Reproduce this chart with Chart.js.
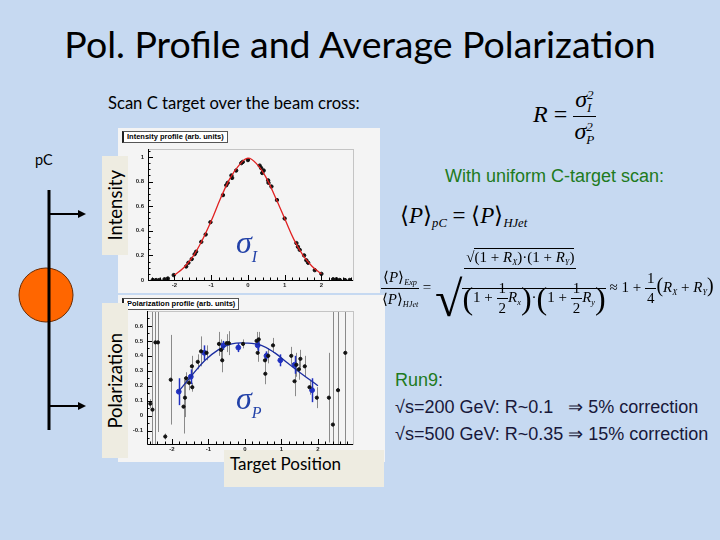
<!DOCTYPE html>
<html>
<head>
<meta charset="utf-8">
<script src="https://cdn.jsdelivr.net/npm/chart.js@4.4.1/dist/chart.umd.min.js"></script>
<style>
  html, body { margin: 0; padding: 0; }
  #slide { position: relative; width: 720px; height: 540px; background: #c6d9f1; overflow: hidden; font-family: Lato, "Open Sans", sans-serif; color: #000; }
  .abs { position: absolute; }
  #title { left: 0; width: 720px; top: 21px; text-align: center; font-size: 37.5px; }
  #scan { left: 108px; top: 93px; font-size: 16.6px; }
  #pc { left: 35px; top: 151px; font-size: 14.5px; }
  .panel { background: #f4f4f4; }
  .ptitle { background: #fff; border: 1px solid #555; border-left: 2px solid #222; font: bold 7.5px "Liberation Sans", Arial, sans-serif; line-height: 10px; padding: 0 3px; white-space: nowrap; }
  .vlab { background: #eeece1; display: flex; align-items: center; justify-content: center; }
  .vlab span { writing-mode: vertical-rl; transform: rotate(180deg); font-size: 18.5px; }
  #tpos { left: 224px; top: 450px; width: 160px; height: 37px; background: #eeece1; font-size: 17px; line-height: 28px; padding-left: 6px; box-sizing: border-box; }
  .sig { font-family: "Liberation Serif", serif; font-style: italic; color: #2342a8; font-size: 32px; }
  .sig sub { font-size: 16px; vertical-align: -9px; }
  .math { font-family: "Liberation Serif", "Times New Roman", serif; white-space: nowrap; }
  .frac { display: inline-flex; flex-direction: column; align-items: center; vertical-align: middle; }
  .frac > span:first-child { border-bottom: 1px solid #000; padding: 0 2px 1px; }
  .frac > span:last-child { padding-top: 1px; }
  .sc { display: inline-flex; flex-direction: column; font-size: 55%; line-height: 1; vertical-align: middle; font-style: italic; }
  .sb { font-size: 55%; font-style: italic; vertical-align: -0.35em; }
  .ov { border-top: 1px solid #000; }
  .bp { font-size: 32px; vertical-align: middle; }
  #green1 { left: 445px; top: 166px; font: 18px "Liberation Sans", Arial, sans-serif; color: #207a20; }
  #run { left: 395px; top: 367px; font: 18px "Liberation Sans", Arial, sans-serif; color: #18183a; line-height: 27px; }
  #run .g { color: #207a20; }
</style>
</head>
<body>
<div id="slide">
  <div id="title" class="abs">Pol. Profile and Average Polarization</div>
  <div id="scan" class="abs">Scan C target over the beam cross:</div>
  <div id="pc" class="abs">pC</div>

  <svg class="abs" style="left:0;top:0" width="110" height="540">
    <circle cx="46" cy="295" r="27" fill="#ff6600" stroke="#6a2a00" stroke-width="1"/>
    <line x1="49" y1="190" x2="49" y2="430" stroke="#000" stroke-width="3"/>
    <line x1="49" y1="214" x2="80" y2="214" stroke="#000" stroke-width="2"/>
    <polygon points="78,210 86,214 78,218" fill="#000"/>
    <line x1="49" y1="406" x2="80" y2="406" stroke="#000" stroke-width="2"/>
    <polygon points="78,402 86,406 78,410" fill="#000"/>
  </svg>

  <div class="abs panel" style="left:118px;top:128px;width:262px;height:165px"></div>
  <div class="abs panel" style="left:118px;top:295px;width:267px;height:167px"></div>
  <div id="tpos" class="abs">Target Position</div>
  <div class="abs" style="left:118px;top:128px;width:262px;height:164px"><canvas id="intChart"></canvas></div>
  <div class="abs" style="left:118px;top:294px;width:267px;height:168px"><canvas id="polChart"></canvas></div>
  <div class="abs ptitle" style="left:122px;top:131px">Intensity profile (arb. units)</div>
  <div class="abs ptitle" style="left:122px;top:298px">Polarization profile (arb. units)</div>

  <div class="abs vlab" style="left:102px;top:156px;width:26px;height:99px"><span>Intensity</span></div>
  <div class="abs vlab" style="left:102px;top:303px;width:26px;height:155px"><span>Polarization</span></div>

  <div class="abs sig" style="left:236px;top:224px">σ<sub>I</sub></div>
  <div class="abs sig" style="left:236px;top:380px">σ<sub>P</sub></div>

  <div class="abs math" style="left:533px;top:86px;font-size:24px">
    <i>R</i> = <span class="frac"><span><i>σ</i><span class="sc"><span>2</span><span>I</span></span></span><span><i>σ</i><span class="sc"><span>2</span><span>P</span></span></span></span>
  </div>

  <div id="green1" class="abs">With uniform C-target scan:</div>

  <div class="abs math" style="left:400px;top:202px;font-size:23px">
    ⟨<i>P</i>⟩<span class="sb">pC</span> = ⟨<i>P</i>⟩<span class="sb">HJet</span>
  </div>

  <div class="abs math" style="left:381px;top:249px;font-size:15px">
    <span class="frac"><span>⟨<i>P</i>⟩<span class="sb">Exp</span></span><span>⟨<i>P</i>⟩<span class="sb">HJet</span></span></span>
    =
    <span class="frac"><span>√<span class="ov">(1 + <i>R<span class="sb">X</span></i>)·(1 + <i>R<span class="sb">Y</span></i>)</span></span><span><span style="font-size:50px;vertical-align:middle">√</span><span class="ov"><span class="bp">(</span>1 + <span class="frac"><span>1</span><span>2</span></span><i>R<span class="sb">x</span></i><span class="bp">)</span>·<span class="bp">(</span>1 + <span class="frac"><span>1</span><span>2</span></span><i>R<span class="sb">y</span></i><span class="bp">)</span></span></span></span>
    ≈ 1 + <span class="frac"><span>1</span><span>4</span></span><span style="font-size:20px">(</span><i>R<span class="sb">X</span></i> + <i>R<span class="sb">Y</span></i><span style="font-size:20px">)</span>
  </div>

  <div id="run" class="abs"><span class="g">Run9</span>:<br>√s=200 GeV: R~0.1 &nbsp; ⇒ 5% correction<br>√s=500 GeV: R~0.35 ⇒ 15% correction</div>
</div>

<script>
// intensity profile
const intX = [-2.59, -2.5, -2.41, -2.27, -2.18, -2.02, -1.68, -1.62, -1.53, -1.45, -1.41, -1.27, -1.15, -1.02,
  -0.68, -0.59, -0.55, -0.45, -0.43, -0.32, -0.18, -0.14, 0.0, 0.32, 0.36, 0.43, 0.39, 0.55, 0.56, 0.64, 0.79,
  1.0, 1.32, 1.36, 1.41, 1.53, 1.59, 1.64, 1.82, 2.0, 2.32, 2.41, 2.5, 2.64, 2.77];
const intY = [0.0, 0.0, 0.0, 0.006, 0.012, 0.04, 0.11, 0.14, 0.17, 0.21, 0.23, 0.31, 0.37, 0.47,
  0.69, 0.77, 0.79, 0.85, 0.83, 0.89, 0.95, 0.96, 0.975, 0.93, 0.91, 0.89, 0.87, 0.81, 0.79, 0.76, 0.65,
  0.50, 0.30, 0.27, 0.245, 0.20, 0.16, 0.14, 0.08, 0.05, 0.006, 0.006, 0.0, 0.0, 0.0];
// red fit curve
const fitIX = [-2, -1.75, -1.5, -1.25, -1, -0.75, -0.5, -0.25, 0, 0.25, 0.5, 0.75, 1, 1.25, 1.5, 1.75, 2];
const fitIY = [0.04, 0.1, 0.19, 0.32, 0.48, 0.66, 0.82, 0.93, 0.99, 0.94, 0.83, 0.67, 0.5, 0.33, 0.2, 0.11, 0.05];

// polarization profile, black points with errors
const polX = [-2.59, -2.53, -2.45, -2.38, -2.18, -2.03, -1.68, -1.64, -1.61, -1.53, -1.45, -1.44, -1.29, -1.2, -1.05,
  -0.71, -0.65, -0.62, -0.5, -0.44, -0.05, 0.32, 0.38, 0.35, 0.55, 0.56, 0.64, 0.77, 1.27, 1.36, 1.41, 1.48, 1.52,
  1.64, 1.77, 1.97, 2.3, 2.41, 2.55, 2.75];
const polY = [0.08, 0.04, 0.49, 0.49, -0.14, 0.24, 0.06, 0.12, 0.25, 0.22, 0.33, 0.19, 0.36, 0.43, 0.42,
  0.48, 0.44, 0.37, 0.485, 0.485, 0.48, 0.5, 0.51, 0.42, 0.37, 0.28, 0.40, 0.47, 0.40, 0.23, 0.34, 0.31, 0.38,
  0.33, 0.19, 0.12, 0.12, -0.06, 0.17, 0.42];
const polErr = [0.03, 1.0, 1.0, 0.6, 0.02, 0.3, 0.18, 0.13, 0.04, 0.05, 0.07, 0.03, 0.05, 0.1, 0.05,
  0.08, 0.07, 0.08, 0.06, 0.08, 0.03, 0.06, 0.05, 0.06, 0.05, 0.07, 0.05, 0.05, 0.06, 0.1, 0.08, 0.07, 0.06,
  0.07, 0.05, 0.07, 0.3, 1.0, 1.0, 1.0];
// blue averaged points
const avgX = [-1.81, -1.48, -1.11, -0.59, -0.18, 0.35, 0.59, 0.97, 1.36, 1.84];
const avgY = [0.16, 0.26, 0.42, 0.47, 0.455, 0.47, 0.40, 0.37, 0.34, 0.17];
const avgErr = [0.09, 0.05, 0.05, 0.03, 0.03, 0.04, 0.03, 0.04, 0.06, 0.08];
// blue fit curve
const fitPX = [-1.82, -1.45, -1.09, -0.73, -0.36, 0.05, 0.45, 0.82, 1.18, 1.55, 2.0];
const fitPY = [0.16, 0.27, 0.37, 0.44, 0.48, 0.485, 0.47, 0.42, 0.35, 0.28, 0.2];

const intXTicks = [-2, -1, 0, 1, 2];
const intYTicks = [0, 0.2, 0.4, 0.6, 0.8, 1];
const polXTicks = [-2, -1, 0, 1, 2];
const polYTicks = [-0.1, 0, 0.1, 0.2, 0.3, 0.4, 0.5, 0.6];

const pts = (xs, ys) => xs.map((x, i) => ({ x, y: ys[i] }));

const errorBars = {
  id: 'errorBars',
  beforeDatasetsDraw(chart) {
    const { ctx, chartArea: a, scales: { x, y } } = chart;
    ctx.save();
    ctx.beginPath();
    ctx.rect(a.left, a.top, a.right - a.left, a.bottom - a.top);
    ctx.clip();
    chart.data.datasets.forEach(ds => {
      if (!ds.errs) return;
      ctx.strokeStyle = ds.errColor;
      ctx.lineWidth = ds.errWidth;
      ds.data.forEach((p, j) => {
        const px = Math.round(x.getPixelForValue(p.x)) + 0.5;
        ctx.beginPath();
        ctx.moveTo(px, y.getPixelForValue(p.y - ds.errs[j]));
        ctx.lineTo(px, y.getPixelForValue(p.y + ds.errs[j]));
        ctx.stroke();
      });
    });
    ctx.restore();
  }
};

// ROOT-like frame with inward ticks
const rootFrame = {
  id: 'rootFrame',
  afterDatasetsDraw(chart, args, opts) {
    const { ctx, chartArea: a, scales: { x, y } } = chart;
    ctx.save();
    ctx.strokeStyle = '#c4c4c4';
    ctx.lineWidth = 1;
    ctx.strokeRect(a.left + 0.5, a.top + 0.5, a.right - a.left, a.bottom - a.top);
    ctx.strokeStyle = '#000';
    ctx.beginPath();
    ctx.moveTo(a.left + 0.5, a.top);
    ctx.lineTo(a.left + 0.5, a.bottom + 0.5);
    ctx.lineTo(a.right, a.bottom + 0.5);
    const start = (s, step) => Math.ceil(s.min / step) * step;
    for (let v = start(x, opts.xMinor); v <= x.max; v += opts.xMinor) {
      const px = Math.round(x.getPixelForValue(v)) + 0.5;
      ctx.moveTo(px, a.bottom); ctx.lineTo(px, a.bottom - 2.5);
    }
    x.ticks.forEach(t => {
      const px = Math.round(x.getPixelForValue(t.value)) + 0.5;
      ctx.moveTo(px, a.bottom); ctx.lineTo(px, a.bottom - 5);
    });
    for (let v = start(y, opts.yMinor); v <= y.max; v += opts.yMinor) {
      const py = Math.round(y.getPixelForValue(v)) + 0.5;
      ctx.moveTo(a.left, py); ctx.lineTo(a.left + 2.5, py);
    }
    y.ticks.forEach(t => {
      const py = Math.round(y.getPixelForValue(t.value)) + 0.5;
      ctx.moveTo(a.left, py); ctx.lineTo(a.left + 5, py);
    });
    ctx.stroke();
    ctx.restore();
  }
};

const tickFont = { size: 6, family: 'Liberation Sans', weight: 'bold' };
const fmt = v => String(Math.round(v * 10) / 10);

function axis(min, max, ticks, pos, fitSize) {
  return {
    type: 'linear', position: pos, min, max,
    grid: { display: false, drawTicks: false }, border: { display: false },
    afterBuildTicks: s => { s.ticks = ticks.map(v => ({ value: v })); },
    afterFit: s => { if (pos === 'left') s.width = fitSize; else s.height = fitSize; },
    ticks: { font: tickFont, color: '#222', padding: pos === 'left' ? 4 : 2, autoSkip: false, maxRotation: 0, minRotation: 0, callback: fmt }
  };
}

const common = {
  responsive: true, maintainAspectRatio: false, animation: false,
  plugins: { legend: { display: false }, tooltip: { enabled: false } }
};

new Chart(document.getElementById('intChart'), {
  type: 'scatter',
  data: {
    datasets: [
      { data: pts(fitIX, fitIY), showLine: true, borderColor: '#e02020', borderWidth: 1.3, pointRadius: 0, tension: 0.4 },
      { data: pts(intX, intY), backgroundColor: '#111', borderColor: '#111', pointRadius: 1.7 }
    ]
  },
  options: {
    ...common,
    layout: { padding: { left: 2, right: 27, top: 21, bottom: 0 } },
    scales: {
      x: axis(-2.72, 2.86, intXTicks, 'bottom', 12),
      y: axis(0, 1.065, intYTicks, 'left', 28)
    },
    plugins: { ...common.plugins, rootFrame: { xMinor: 0.2, yMinor: 0.05 } }
  },
  plugins: [errorBars, rootFrame]
});

new Chart(document.getElementById('polChart'), {
  type: 'scatter',
  data: {
    datasets: [
      { data: pts(polX, polY), errs: polErr, errColor: '#8a8a8a', errWidth: 1, backgroundColor: '#111', borderColor: '#111', pointRadius: 1.6 },
      { data: pts(fitPX, fitPY), showLine: true, borderColor: '#1a2ca0', borderWidth: 1.3, pointRadius: 0, tension: 0.4 },
      { data: pts(avgX, avgY), errs: avgErr, errColor: '#2030c0', errWidth: 1.5, backgroundColor: '#2030c0', borderColor: '#2030c0', pointRadius: 2.4 }
    ]
  },
  options: {
    ...common,
    layout: { padding: { left: 1, right: 32, top: 17, bottom: 0 } },
    scales: {
      x: axis(-2.68, 2.96, polXTicks, 'bottom', 18),
      y: axis(-0.19, 0.7, polYTicks, 'left', 28)
    },
    plugins: { ...common.plugins, rootFrame: { xMinor: 0.2, yMinor: 0.05 } }
  },
  plugins: [errorBars, rootFrame]
});
</script>
</body>
</html>
